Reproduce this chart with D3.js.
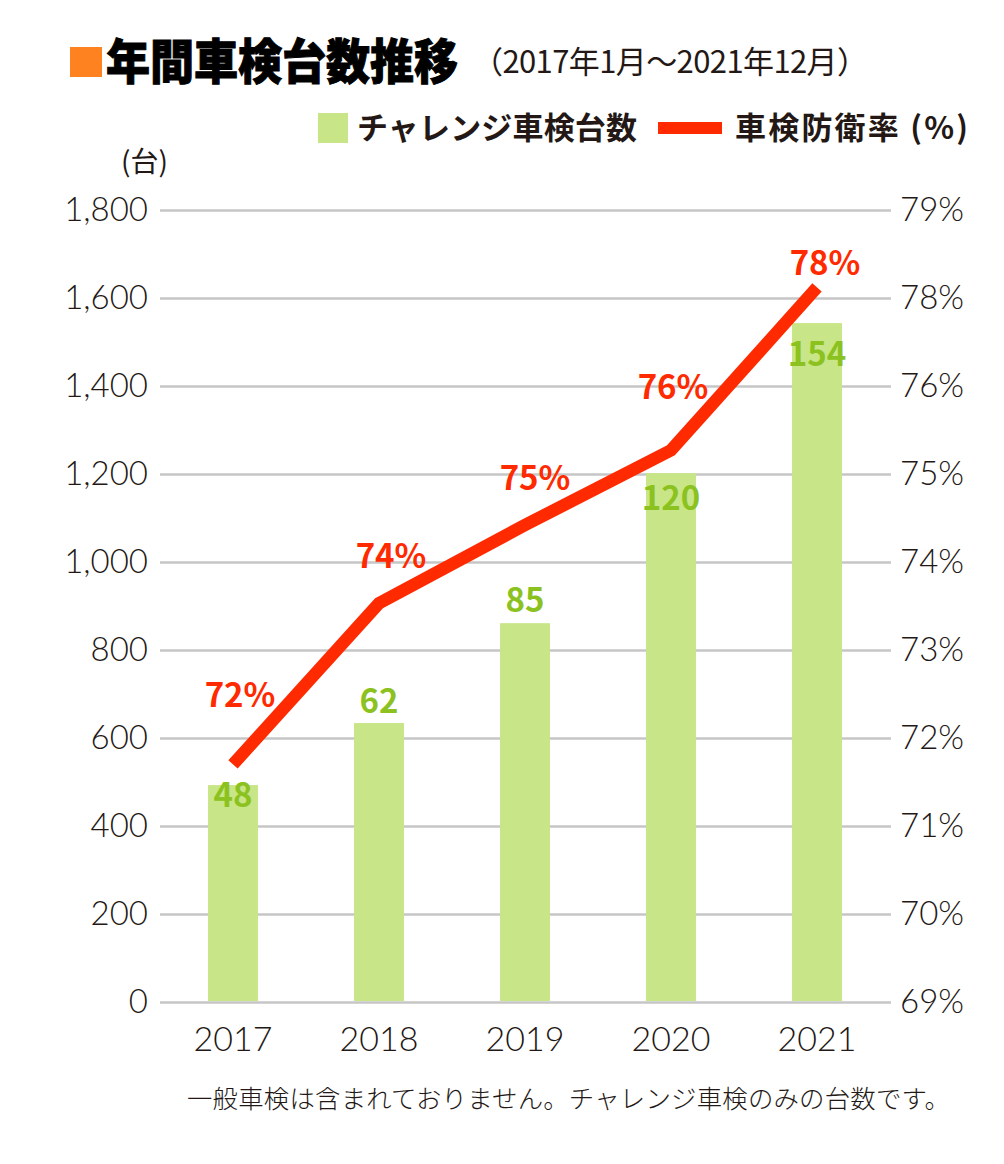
<!DOCTYPE html>
<html lang="ja">
<head>
<meta charset="utf-8">
<script src="https://cdn.jsdelivr.net/npm/d3@7"></script>
<style>
  html, body { margin: 0; padding: 0; background: #fff; }
  svg { display: block; }
</style>
</head>
<body>
<svg id="chart" width="1004" height="1164"></svg>
<script>
// ---------- data ----------
const years = ["2017", "2018", "2019", "2020", "2021"];
const barValues = [493, 634, 861, 1202, 1543];          // bar heights on left axis (台)
const barLabels = ["48", "62", "85", "120", "154"];      // printed bar labels
const rateValues = [71.7, 73.53, 74.42, 75.27, 78.12];   // line on right axis (%)
const rateLabels = ["72%", "74%", "75%", "76%", "78%"];
const leftTicks = [0, 200, 400, 600, 800, 1000, 1200, 1400, 1600, 1800];
const rightTicks = [69, 70, 71, 72, 73, 74, 75, 76, 78, 79];

const titleText = "年間車検台数推移";
const subtitleText = "（2017年1月～2021年12月）";
const legendBar = "チャレンジ車検台数";
const legendLine = "車検防衛率 (%)";
const unitText = "(台)";
const noteText = "一般車検は含まれておりません。チャレンジ車検のみの台数です。";

// ---------- layout (not data) ----------
const barLabelDy = [22, -10, -11, 37, 43];       // baseline offset from bar top
const rateLabelDx = [7, 12, 10, 2, 8];
const rateLabelDy = [-57, -35, -35, -51, -12];   // baseline offset from line point

const C = {
  bar: "#c8e687", barText: "#8cc21f", line: "#ff2a00", orange: "#ff8220",
  text: "#231815", grid: "#c6c6c6"
};
const JP = "'Noto Sans CJK JP', 'Noto Sans', sans-serif";
const NUM = "Lato, 'Open Sans', 'Noto Sans', sans-serif";

const svg = d3.select("#chart");
const plot = { left: 160, right: 891, top: 210, bottom: 1002 };

const x = d3.scaleBand().domain(years).range([plot.left, plot.right - 1])
  .paddingInner(0.658).paddingOuter(0.329);
const y = d3.scaleLinear().domain([0, 1800]).range([plot.bottom, plot.top]);
const yR = d3.scaleLinear().domain(rightTicks).range(leftTicks.map(v => y(v)));

// ---------- gridlines + left axis ----------
const gL = svg.append("g").attr("transform", `translate(${plot.left},0)`)
  .call(d3.axisLeft(y).tickValues(leftTicks).tickSize(-(plot.right - plot.left))
    .tickPadding(12).tickFormat(d3.format(",")));
gL.select(".domain").remove();
gL.selectAll(".tick line").attr("stroke", C.grid).attr("stroke-width", 2.5);
gL.selectAll(".tick text").attr("fill", C.text).style("font-family", NUM)
  .style("font-weight", 300).style("font-size", "33px");

// ---------- right axis ----------
const gR = svg.append("g").attr("transform", `translate(${plot.right},0)`)
  .call(d3.axisRight(yR).tickValues(rightTicks).tickSize(0).tickPadding(9)
    .tickFormat(d => d + "%"));
gR.select(".domain").remove();
gR.selectAll(".tick text").attr("fill", C.text).style("font-family", NUM)
  .style("font-weight", 300).style("font-size", "33px");

// ---------- bottom axis ----------
const gB = svg.append("g").attr("transform", `translate(0,${plot.bottom})`)
  .call(d3.axisBottom(x).tickSize(0).tickPadding(25));
gB.select(".domain").remove();
gB.selectAll(".tick text").attr("fill", C.text).style("font-family", NUM)
  .style("font-weight", 300).style("font-size", "34px");

// ---------- bars ----------
svg.append("g").selectAll("rect").data(years).join("rect")
  .attr("x", d => x(d)).attr("width", x.bandwidth())
  .attr("y", (d, i) => y(barValues[i]))
  .attr("height", (d, i) => y(0) - y(barValues[i]) - 1)
  .attr("fill", C.bar);

// ---------- line ----------
const line = d3.line().x((d, i) => x(years[i]) + x.bandwidth() / 2).y(d => yR(d));
svg.append("path").datum(rateValues).attr("d", line)
  .attr("fill", "none").attr("stroke", C.line).attr("stroke-width", 12.5)
  .attr("stroke-linejoin", "miter").attr("stroke-linecap", "butt");

// ---------- bar labels ----------
svg.append("g").selectAll("text").data(years).join("text")
  .attr("x", d => x(d) + x.bandwidth() / 2)
  .attr("y", (d, i) => y(barValues[i]) + barLabelDy[i])
  .attr("text-anchor", "middle").attr("fill", C.barText)
  .style("font-family", JP).style("font-weight", 700).style("font-size", "33px")
  .text((d, i) => barLabels[i]);

// ---------- rate labels ----------
svg.append("g").selectAll("text").data(years).join("text")
  .attr("x", (d, i) => x(d) + x.bandwidth() / 2 + rateLabelDx[i])
  .attr("y", (d, i) => yR(rateValues[i]) + rateLabelDy[i])
  .attr("text-anchor", "middle").attr("fill", C.line)
  .style("font-family", JP).style("font-weight", 700).style("font-size", "33px")
  .text((d, i) => rateLabels[i]);

// ---------- title ----------
svg.append("rect").attr("x", 70).attr("y", 47).attr("width", 32).attr("height", 30).attr("fill", C.orange);
svg.append("text").attr("x", 106).attr("y", 79).attr("fill", "#000")
  .attr("stroke", "#000").attr("stroke-width", 1)
  .style("font-family", JP).style("font-weight", 900).style("font-size", "48px")
  .attr("textLength", 352).attr("lengthAdjust", "spacingAndGlyphs")
  .text(titleText);
svg.append("text").attr("x", 472).attr("y", 73).attr("fill", C.text)
  .style("font-family", JP).style("font-weight", 400).style("font-size", "31px")
  .attr("textLength", 396).attr("lengthAdjust", "spacing")
  .text(subtitleText);

// ---------- legend ----------
svg.append("rect").attr("x", 318).attr("y", 113).attr("width", 30).attr("height", 30).attr("fill", C.bar);
svg.append("text").attr("x", 357).attr("y", 139).attr("fill", C.text)
  .style("font-family", JP).style("font-weight", 700).style("font-size", "31px")
  .attr("textLength", 280).attr("lengthAdjust", "spacing")
  .text(legendBar);
svg.append("rect").attr("x", 658).attr("y", 122).attr("width", 64).attr("height", 12).attr("fill", C.line);
svg.append("text").attr("x", 735).attr("y", 139).attr("fill", C.text)
  .style("font-family", JP).style("font-weight", 700).style("font-size", "31px")
  .attr("textLength", 233).attr("lengthAdjust", "spacing")
  .text(legendLine);

// ---------- unit + note ----------
svg.append("text").attr("x", 121).attr("y", 172).attr("fill", C.text)
  .style("font-family", JP).style("font-weight", 400).style("font-size", "28px")
  .text(unitText);
svg.append("text").attr("x", 187).attr("y", 1108).attr("fill", C.text)
  .style("font-family", JP).style("font-weight", 300).style("font-size", "25.4px")
  .attr("textLength", 763).attr("lengthAdjust", "spacing")
  .text(noteText);
</script>
</body>
</html>
